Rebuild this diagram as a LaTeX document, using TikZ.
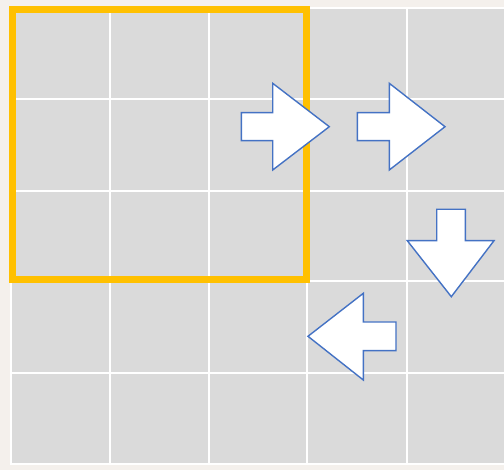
\documentclass[tikz,border=0pt]{standalone}
\usetikzlibrary{calc}
\definecolor{bgbeige}{HTML}{F4F0EC}
\definecolor{cellgray}{HTML}{DADADA}
\definecolor{frameyellow}{HTML}{FFC000}
\definecolor{arrowblue}{HTML}{4472C4}
\tikzset{
  gridline/.style={draw=white, line width=2pt},
  blockarrow/.style={draw=arrowblue, fill=white, line width=1.4pt, line join=miter},
  yellowframe/.style={draw=frameyellow, line width=7pt, line join=miter}
}
\begin{document}
\begin{tikzpicture}[x=1pt,y=-1pt]
\useasboundingbox (0,0) rectangle (504,470);
\fill[bgbeige] (0,0) rectangle (504,470);
% grid
\fill[cellgray] (11,8) rectangle (506,465);
\foreach \gx in {11,109.9,208.7,307.3,406.7}
  \draw[gridline] (\gx,8) -- (\gx,465);
\foreach \gy in {8,99.3,190.7,281.3,373.3,464.5}
  \draw[gridline] (11,\gy) -- (506,\gy);
% yellow frame
\draw[yellowframe] (12.5,9.5) rectangle (306.5,279.5);
% right arrow 1
\draw[blockarrow] (241.3,112.7) -- (272.7,112.7) -- (272.7,83.3) -- (329.3,126.7) -- (272.7,170) -- (272.7,140.7) -- (241.3,140.7) -- cycle;
% right arrow 2
\draw[blockarrow] (357.3,112.7) -- (389.3,112.7) -- (389.3,83.3) -- (445,126.7) -- (389.3,170) -- (389.3,140.7) -- (357.3,140.7) -- cycle;
% down arrow
\draw[blockarrow] (436.7,209.3) -- (465.3,209.3) -- (465.3,240.7) -- (494,240.7) -- (451.3,296.7) -- (407.3,240.7) -- (436.7,240.7) -- cycle;
% left arrow
\draw[blockarrow] (396,322) -- (363.3,322) -- (363.3,293.3) -- (308,336.3) -- (363.3,380) -- (363.3,350.7) -- (396,350.7) -- cycle;
\end{tikzpicture}
\end{document}
